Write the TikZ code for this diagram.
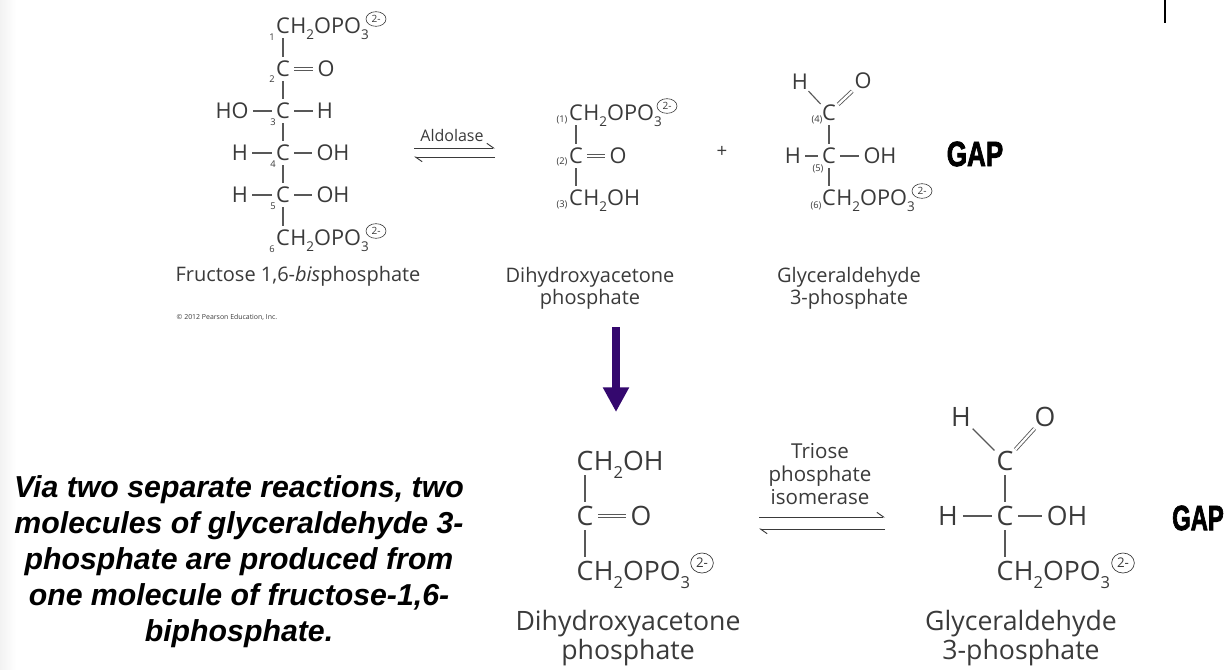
\documentclass[tikz,border=0pt]{standalone}
\usepackage{fontspec}
\usepackage{graphicx}
\setmainfont{Open Sans}
\newfontfamily\boldit{Liberation Sans}
\newfontfamily\heavy[BoldFont=* Bold,BoldFeatures={FakeBold=2.5}]{Liberation Sans}
\usetikzlibrary{arrows.meta,shapes.geometric}
\definecolor{ink}{HTML}{3A3A3A}
\definecolor{purp}{HTML}{34086E}
\newcommand{\sm}[1]{\raisebox{-0.28em}{\scalebox{0.62}{#1}}}
\tikzset{
  x=0.75pt,y=-0.75pt,
  atomA/.style={text=ink,inner sep=3pt,text height=11.6pt,text depth=0pt,font=\fontsize{16.3}{18}\selectfont},
  restA/.style={text=ink,inner sep=0pt,anchor=base west,font=\fontsize{16.3}{18}\selectfont},
  atomB/.style={text=ink,inner sep=3.5pt,text height=14.3pt,text depth=0pt,font=\fontsize{20}{22}\selectfont},
  restB/.style={text=ink,inner sep=0pt,anchor=base west,font=\fontsize{20}{22}\selectfont},
  num/.style={text=ink,inner sep=0pt,font=\fontsize{7}{8}\selectfont},
  cap1/.style={text=ink,inner sep=0pt,anchor=base,font=\fontsize{15}{17}\selectfont},
  cap2/.style={text=ink,inner sep=0pt,anchor=base,font=\fontsize{20}{22}\selectfont},
  enz/.style={text=ink,inner sep=0pt,font=\fontsize{12}{14}\selectfont},
  enzB/.style={text=ink,inner sep=0pt,anchor=base,font=\fontsize{15.4}{17}\selectfont},
  bond/.style={draw=ink!85,line width=0.85pt},
  dbl/.style={draw=ink!85,line width=0.65pt,double=white,double distance=1.7pt},
  reach/.style={shorten >=-#1,shorten <=-#1},
  chgA/.style={draw=ink,line width=0.45pt,ellipse,inner sep=0pt,minimum width=15pt,minimum height=11pt,text=ink,font=\fontsize{7.5}{8}\selectfont},
  chgB/.style={draw=ink,line width=0.5pt,ellipse,inner sep=0pt,minimum width=17pt,minimum height=15pt,text=ink,font=\fontsize{10}{11}\selectfont},
  gap/.style={inner sep=0pt,text=black,font=\heavy\bfseries\fontsize{21}{22}\selectfont},
  fwd/.style={draw=ink,line width=0.7pt,-{Straight Barb[left,length=5pt,width=7pt]}},
  big/.style={draw=purp,line width=6pt,-{Triangle[length=18.5pt,width=18.5pt]}},
  para/.style={inner sep=0pt,align=center,text=black,font=\boldit\bfseries\itshape\fontsize{22.7}{27}\selectfont},
}
\begin{document}
\begin{tikzpicture}
\useasboundingbox (0,0) rectangle (1228,669);
\fill[white] (0,0) rectangle (1228,669);
\shade[left color=black!5,right color=white] (0,0) rectangle (16,669);
% top-right mark
\coordinate (m1) at (1165,0); \coordinate (m2) at (1165,23);
\draw[black,line width=0.9pt] (m1) -- (m2);

% Fructose 1,6-bisphosphate
\node[atomA] (a1) at (283,26) {C};
\node[restA] (a1r) at (a1.base east) {\hspace{-3pt}H\sm{2}OPO\sm{3}};
\node[chgA] (a1q) at (376,19) {2-};
\node[num] (a1n) at (272,37) {1};
\node[atomA] (a2) at (283,69) {C};
\node[atomA] (a2o) at (326,69) {O};
\node[num] (a2n) at (272,79) {2};
\node[atomA] (a3) at (283,111) {C};
\node[atomA] (a3l) at (232,111) {HO};
\node[atomA] (a3r) at (325,111) {H};
\node[num] (a3n) at (273,122) {3};
\node[atomA] (a4) at (283,153) {C};
\node[atomA] (a4l) at (240,153) {H};
\node[atomA] (a4r) at (333,153) {OH};
\node[num] (a4n) at (273,164) {4};
\node[atomA] (a5) at (283,195) {C};
\node[atomA] (a5l) at (240,195) {H};
\node[atomA] (a5r) at (333,195) {OH};
\node[num] (a5n) at (273,206) {5};
\node[atomA] (a6) at (283,238) {C};
\node[restA] (a6r) at (a6.base east) {\hspace{-3pt}H\sm{2}OPO\sm{3}};
\node[chgA] (a6q) at (376,231) {2-};
\node[num] (a6n) at (272,249) {6};
\draw[bond] (a1) -- (a2);
\draw[bond] (a2) -- (a3);
\draw[bond] (a3) -- (a4);
\draw[bond] (a4) -- (a5);
\draw[bond] (a5) -- (a6);
\draw[dbl] (a2) -- (a2o);
\draw[bond] (a3l) -- (a3);
\draw[bond] (a3) -- (a3r);
\draw[bond] (a4l) -- (a4);
\draw[bond] (a4) -- (a4r);
\draw[bond] (a5l) -- (a5);
\draw[bond] (a5) -- (a5r);
\node[cap1] (acap) at (298,281) {Fructose 1,6-\textit{bis}phosphate};
\node[inner sep=0pt,text=ink,font=\fontsize{5.2}{6}\selectfont] (copy) at (227,317) {© 2012 Pearson Education, Inc.};

% Aldolase
\node[enz] (ald) at (452,135) {Aldolase};
\coordinate (e1a) at (414,148); \coordinate (e1b) at (495,148);
\coordinate (e2a) at (495,157); \coordinate (e2b) at (414,157);
\draw[fwd] (e1a) -- (e1b);
\draw[fwd] (e2a) -- (e2b);

% DHAP top
\node[atomA] (b1) at (576,113) {C};
\node[restA] (b1r) at (b1.base east) {\hspace{-3pt}H\sm{2}OPO\sm{3}};
\node[chgA] (b1q) at (667,106) {2-};
\node[num] (b1n) at (562,120) {(1)};
\node[atomA] (b2) at (576,156) {C};
\node[atomA] (b2o) at (618,156) {O};
\node[num] (b2n) at (562,162) {(2)};
\node[atomA] (b3) at (576,198) {C};
\node[restA] (b3r) at (b3.base east) {\hspace{-3pt}H\sm{2}OH};
\node[num] (b3n) at (562,205) {(3)};
\draw[bond] (b1) -- (b2);
\draw[bond] (b2) -- (b3);
\draw[dbl] (b2) -- (b2o);
\node[cap1] (bcap1) at (590,282) {Dihydroxyacetone};
\node[cap1] (bcap2) at (590,304) {phosphate};
\node[text=ink,inner sep=0pt,font=\fontsize{14}{15}\selectfont] (plus) at (722,152) {+};

% GAP top
\node[atomA] (c0h) at (800,82) {H};
\node[atomA] (c0o) at (863,81) {O};
\node[atomA] (c1) at (829,113) {C};
\node[num] (c1n) at (817,120) {(4)};
\node[atomA] (c2) at (829,156) {C};
\node[atomA] (c2l) at (793,156) {H};
\node[atomA] (c2r) at (880,156) {OH};
\node[num] (c2n) at (818,169) {(5)};
\node[atomA] (c3) at (829,198) {C};
\node[restA] (c3r) at (c3.base east) {\hspace{-3pt}H\sm{2}OPO\sm{3}};
\node[chgA] (c3q) at (922,191) {2-};
\node[num] (c3n) at (816,206) {(6)};
\draw[bond,reach=3pt] (c0h) -- (c1);
\draw[dbl,reach=2pt] (c1) -- (c0o);
\draw[bond] (c1) -- (c2);
\draw[bond] (c2) -- (c3);
\draw[bond] (c2l) -- (c2);
\draw[bond] (c2) -- (c2r);
\node[cap1] (ccap1) at (849,282) {Glyceraldehyde};
\node[cap1] (ccap2) at (849,304) {3-phosphate};
\node[gap] (gap1) at (975,154) {\scalebox{0.93}[1.25]{GAP}};

% purple arrow
\coordinate (p1) at (616,327); \coordinate (p2) at (616,412);
\draw[big] (p1) -- (p2);

% DHAP bottom
\node[atomB] (d1) at (585,461) {C};
\node[restB] (d1r) at (d1.base east) {\hspace{-3.5pt}H\sm{2}OH};
\node[atomB] (d2) at (585,516) {C};
\node[atomB] (d2o) at (641,516) {O};
\node[atomB] (d3) at (585,571) {C};
\node[restB] (d3r) at (d3.base east) {\hspace{-3.5pt}H\sm{2}OPO\sm{3}};
\node[chgB] (d3q) at (702,563) {2-};
\draw[bond] (d1) -- (d2);
\draw[bond] (d2) -- (d3);
\draw[dbl] (d2) -- (d2o);
\node[cap2] (dcap1) at (628,630) {Dihydroxyacetone};
\node[cap2] (dcap2) at (628,659) {phosphate};

% isomerase
\node[enzB] (t1) at (820,458) {Triose};
\node[enzB] (t2) at (820,481) {phosphate};
\node[enzB] (t3) at (820,504) {isomerase};
\coordinate (f1a) at (759,517); \coordinate (f1b) at (885,517);
\coordinate (f2a) at (885,529); \coordinate (f2b) at (759,529);
\draw[fwd] (f1a) -- (f1b);
\draw[fwd] (f2a) -- (f2b);

% GAP bottom
\node[atomB] (e0h) at (961,417) {H};
\node[atomB] (e0o) at (1045,417) {O};
\node[atomB] (e1) at (1005,461) {C};
\node[atomB] (e2) at (1005,516) {C};
\node[atomB] (e2l) at (948,516) {H};
\node[atomB] (e2r) at (1067,516) {OH};
\node[atomB] (e3) at (1005,571) {C};
\node[restB] (e3r) at (e3.base east) {\hspace{-3.5pt}H\sm{2}OPO\sm{3}};
\node[chgB] (e3q) at (1123,563) {2-};
\draw[bond,reach=3pt] (e0h) -- (e1);
\draw[dbl,reach=3pt] (e1) -- (e0o);
\draw[bond] (e1) -- (e2);
\draw[bond] (e2) -- (e3);
\draw[bond] (e2l) -- (e2);
\draw[bond] (e2) -- (e2r);
\node[cap2] (ecap1) at (1021,630) {Glyceraldehyde};
\node[cap2] (ecap2) at (1021,659) {3-phosphate};
\node[gap] (gap2) at (1198,518) {\scalebox{0.85}[1.25]{GAP}};

% paragraph
\node[para] (txt) at (239,562) {Via two separate reactions, two\\molecules of glyceraldehyde 3-\\phosphate are produced from\\one molecule of fructose-1,6-\\biphosphate.};
\end{tikzpicture}
\end{document}
